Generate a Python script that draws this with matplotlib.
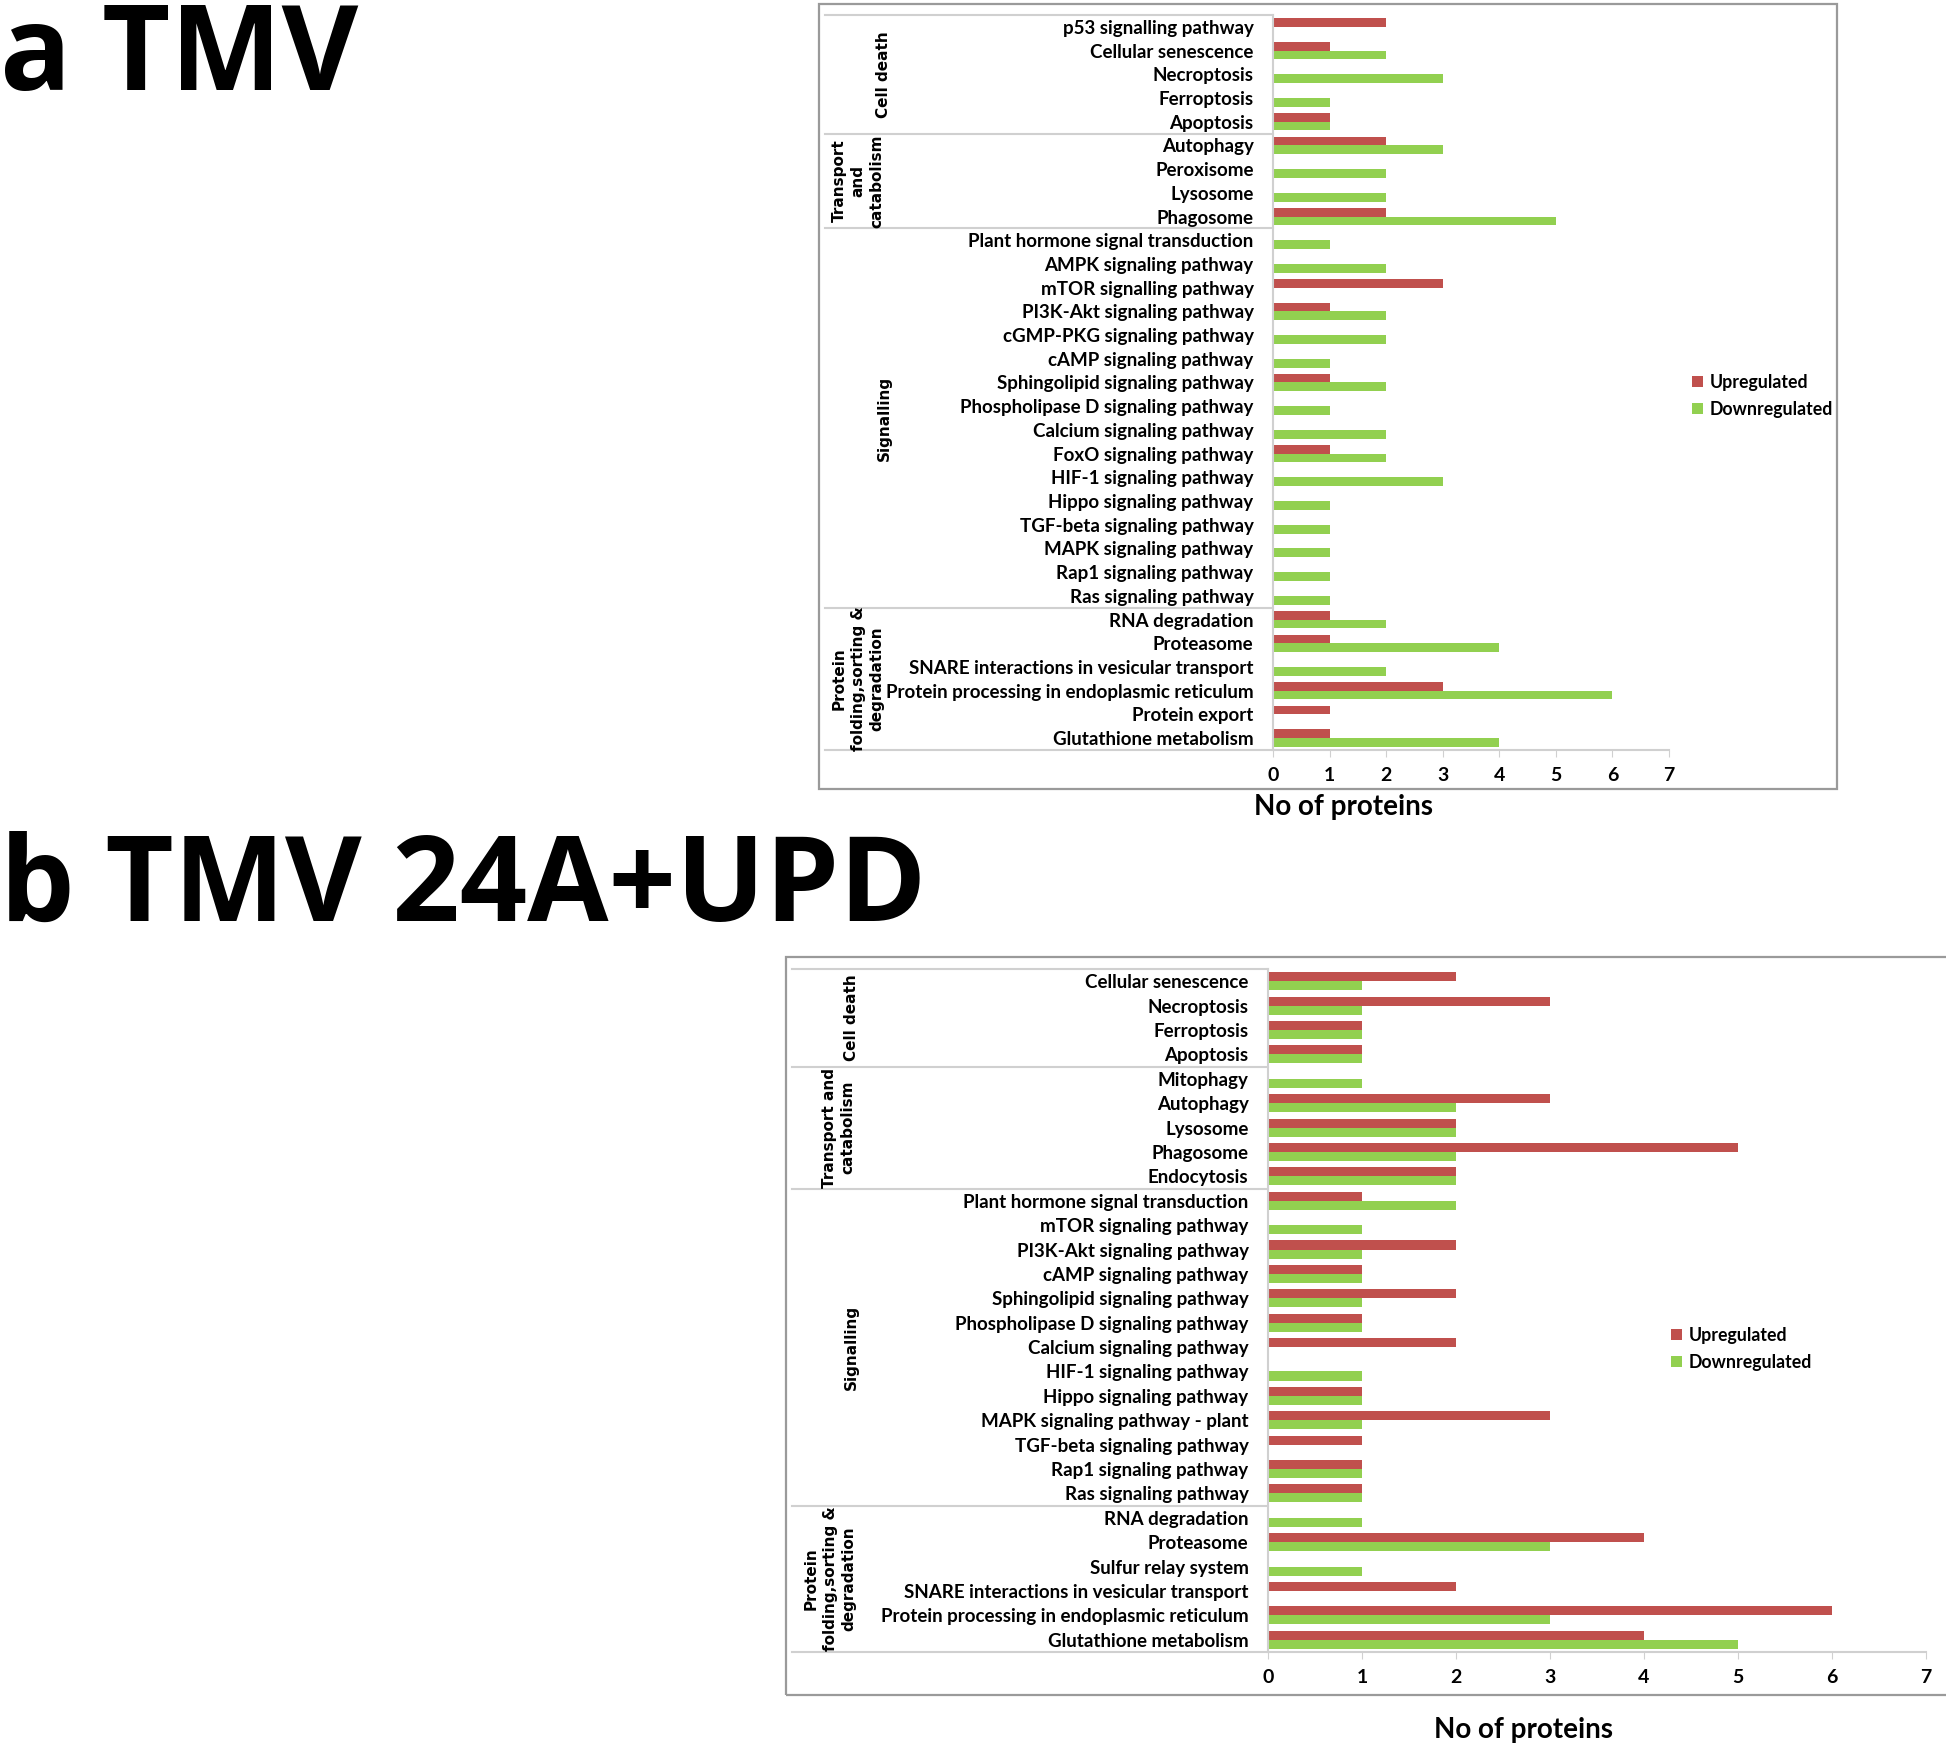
import matplotlib.pyplot as plt
import matplotlib.patches as mpatches
import matplotlib.transforms as mtransforms
from matplotlib import font_manager
import numpy as np

# Panel a: TMV
cats_a = ["p53 signalling pathway", "Cellular senescence", "Necroptosis", "Ferroptosis", "Apoptosis",
          "Autophagy", "Peroxisome", "Lysosome", "Phagosome",
          "Plant hormone signal transduction", "AMPK signaling pathway", "mTOR signalling pathway",
          "PI3K-Akt signaling pathway", "cGMP-PKG signaling pathway", "cAMP signaling pathway",
          "Sphingolipid signaling pathway", "Phospholipase D signaling pathway", "Calcium signaling pathway",
          "FoxO signaling pathway", "HIF-1 signaling pathway", "Hippo signaling pathway",
          "TGF-beta signaling pathway", "MAPK signaling pathway", "Rap1 signaling pathway",
          "Ras signaling pathway",
          "RNA degradation", "Proteasome", "SNARE interactions in vesicular transport",
          "Protein processing in endoplasmic reticulum", "Protein export", "Glutathione metabolism"]
up_a = [2, 1, 0, 0, 1, 2, 0, 0, 2, 0, 0, 3, 1, 0, 0, 1, 0, 0, 1, 0, 0, 0, 0, 0, 0, 1, 1, 0, 3, 1, 1]
down_a = [0, 2, 3, 1, 1, 3, 2, 2, 5, 1, 2, 0, 2, 2, 1, 2, 1, 2, 2, 3, 1, 1, 1, 1, 1, 2, 4, 2, 6, 0, 4]
groups_a = ["Cell death", "Transport\nand\ncatabolism", "Signalling", "Protein\nfolding,sorting &\ndegradation"]
group_sizes_a = [5, 4, 16, 6]

# Panel b: TMV 24A+UPD
cats_b = ["Cellular senescence", "Necroptosis", "Ferroptosis", "Apoptosis",
          "Mitophagy", "Autophagy", "Lysosome", "Phagosome", "Endocytosis",
          "Plant hormone signal transduction", "mTOR signaling pathway", "PI3K-Akt signaling pathway",
          "cAMP signaling pathway", "Sphingolipid signaling pathway", "Phospholipase D signaling pathway",
          "Calcium signaling pathway", "HIF-1 signaling pathway", "Hippo signaling pathway",
          "MAPK signaling pathway - plant", "TGF-beta signaling pathway", "Rap1 signaling pathway",
          "Ras signaling pathway",
          "RNA degradation", "Proteasome", "Sulfur relay system", "SNARE interactions in vesicular transport",
          "Protein processing in endoplasmic reticulum", "Glutathione metabolism"]
up_b = [2, 3, 1, 1, 0, 3, 2, 5, 2, 1, 0, 2, 1, 2, 1, 2, 0, 1, 3, 1, 1, 1, 0, 4, 0, 2, 6, 4]
down_b = [1, 1, 1, 1, 1, 2, 2, 2, 2, 2, 1, 1, 1, 1, 1, 0, 1, 1, 1, 0, 1, 1, 1, 3, 1, 0, 3, 5]
groups_b = ["Cell death", "Transport and\ncatabolism", "Signalling", "Protein\nfolding,sorting &\ndegradation"]
group_sizes_b = [4, 5, 13, 6]

RED = "#C0504D"
GREEN = "#92D050"
GRID = "#D0D0D0"

installed = {f.name for f in font_manager.fontManager.ttflist}
LBL = ["Liberation Sans Narrow"] if "Liberation Sans Narrow" in installed else ["Lato", "DejaVu Sans"]
LBL_SIZE = 13.5 if LBL[0] == "Lato" else 12.5

W, H = 1946, 1748
fig = plt.figure(figsize=(W / 100, H / 100), dpi=100)


def fx(px):
    return px / W


def fy(py):
    return 1 - py / H


def panel(box, ax_px, cats, up, down, groups, sizes, glabel_x, leg_px):
    # frame around the chart
    x0, y0, x1, y1 = box
    fig.patches.append(mpatches.Rectangle((fx(x0), fy(y1)), fx(x1 - x0), (y1 - y0) / H,
                                          transform=fig.transFigure, fill=False,
                                          edgecolor="#9A9A9A", lw=1.6))
    l, t, r, b = ax_px
    ax = fig.add_axes([fx(l), fy(b), fx(r - l), (b - t) / H])
    n = len(cats)
    y = n - 1 - np.arange(n)
    h = 0.37
    ru = ax.barh(y + h / 2, up, height=h, color=RED, label="Upregulated")
    rd = ax.barh(y - h / 2, down, height=h, color=GREEN, label="Downregulated")
    ax.set_xlim(0, 7)
    ax.set_ylim(-0.5, n - 0.5)
    ax.set_yticks(y)
    ax.set_yticklabels(cats, family=LBL, fontweight="bold", fontsize=LBL_SIZE)
    ax.tick_params(axis="y", length=0, pad=14)
    ax.set_xticks(range(8))
    ax.tick_params(axis="x", length=5, color=GRID, pad=7)
    for lab in ax.get_xticklabels():
        lab.set_family(LBL)
        lab.set_fontweight("bold")
        lab.set_fontsize(14)
    for s in ["top", "right"]:
        ax.spines[s].set_visible(False)
    for s in ["left", "bottom"]:
        ax.spines[s].set_color(GRID)
        ax.spines[s].set_linewidth(1.5)

    # group separators extend to the frame
    xmin = (x0 + 6 - l) / (r - l)
    bounds = np.concatenate([[0], np.cumsum(sizes)])
    for bnd in bounds:
        ax.axhline(n - 0.5 - bnd, xmin=xmin, xmax=0, color=GRID, lw=1.5, clip_on=False)
    trans = mtransforms.blended_transform_factory(fig.transFigure, ax.transData)
    for k, g in enumerate(groups):
        yc = n - 0.5 - (bounds[k] + bounds[k + 1]) / 2
        ax.text(glabel_x[k], yc, g, transform=trans,
                rotation=90, ha="center", va="center", multialignment="center",
                fontsize=11, fontweight="bold", family="DejaVu Sans", linespacing=1.3)
    fig.legend(handles=[ru, rd], loc="upper left", bbox_to_anchor=(fx(leg_px[0]), fy(leg_px[1])),
               frameon=False, prop={"family": LBL, "weight": "bold", "size": 12.8},
               handlelength=0.6, handleheight=0.6, handletextpad=0.4, labelspacing=0.55)
    return ax


panel((819, 4, 1837, 789), (1273, 15, 1669, 750), cats_a, up_a, down_a, groups_a, group_sizes_a,
      [fx(884), fx(858), fx(884), fx(858)], (1676, 358))
fig.text(fx(1344), fy(807), "No of proteins", ha="center", va="center",
         family=LBL, fontweight="bold", fontsize=20)

panel((786, 957, 1950, 1695), (1268, 969, 1926, 1652), cats_b, up_b, down_b, groups_b, group_sizes_b,
      [fx(851), fx(839), fx(851), fx(830)], (1655, 1311))
fig.text(fx(1524), fy(1730), "No of proteins", ha="center", va="center",
         family=LBL, fontweight="bold", fontsize=20)

fig.text(0, fy(90), "a TMV", ha="left", va="baseline", family="Open Sans", fontweight="bold", fontsize=85)
fig.text(0, fy(921), "b TMV 24A+UPD", ha="left", va="baseline", family="Open Sans", fontweight="bold", fontsize=85)

fig.savefig("out.png", dpi=100, facecolor="white")
